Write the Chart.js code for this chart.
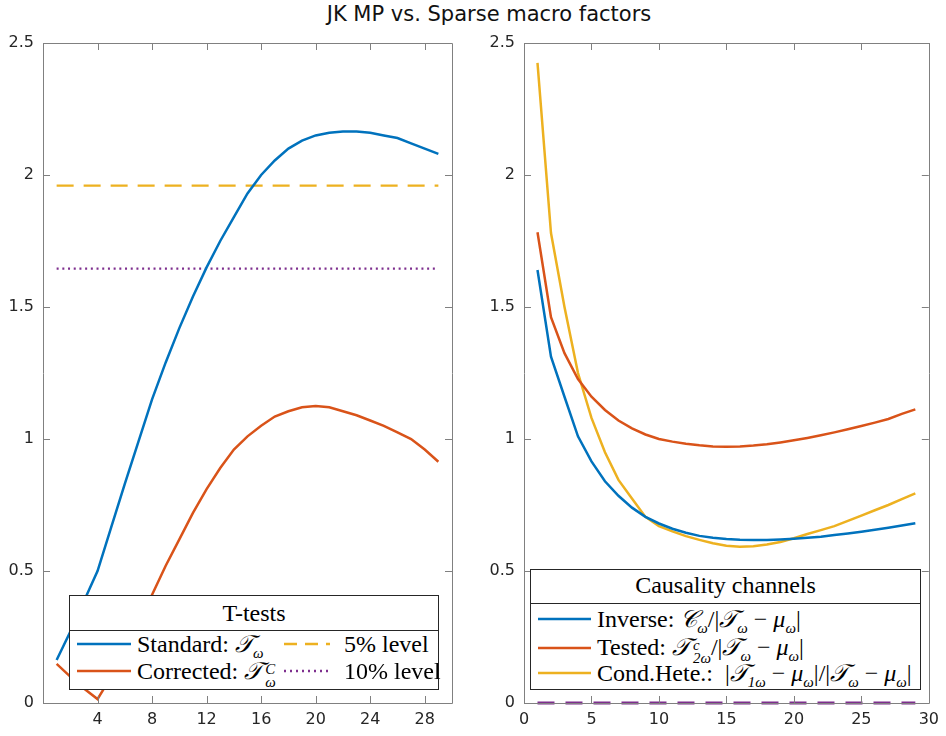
<!DOCTYPE html>
<html><head><meta charset="utf-8">
<script src="https://cdn.jsdelivr.net/npm/chart.js@4.4.0/dist/chart.umd.min.js"></script>
<style>
body{margin:0;width:946px;height:736px;position:relative;background:#fff;overflow:hidden}
canvas{position:absolute;top:0}
#wrap1{position:absolute;left:0;top:0;width:473px;height:736px}
#wrap2{position:absolute;left:473px;top:0;width:473px;height:736px}
#title{position:absolute;left:0;width:978px;top:2px;text-align:center;font-family:"DejaVu Sans",sans-serif;font-size:21px;color:#111}
.leg{position:absolute;background:#fff;border:1px solid #262626;font-family:"Liberation Serif","DejaVu Serif","Times New Roman",serif;font-size:24px;color:#000;box-sizing:border-box}
.leg .t{position:absolute;left:0;right:0;text-align:center;line-height:24px}
.leg .sep{position:absolute;left:0;right:0;border-top:1px solid #262626}
.leg .tx{position:absolute;white-space:nowrap;line-height:24px}
.leg svg{position:absolute}
.m{font-style:italic}
sub{font-size:62%;line-height:0}
.ss{display:inline-block;vertical-align:-8px;line-height:13px;font-size:62%;font-style:italic;margin-left:3px}
.ss span{display:block}
</style>
</head><body>
<div id="title">JK MP vs. Sparse macro factors</div>
<div id="wrap1"><canvas id="c1" width="473" height="736"></canvas></div>
<div id="wrap2"><canvas id="c2" width="473" height="736"></canvas></div>

<div class="leg" style="left:69px;top:595px;width:370px;height:95px">
  <div class="t" style="top:5px">T-tests</div>
  <div class="sep" style="top:34px"></div>
  <svg style="left:7px;top:46px" width="54" height="4"><line x1="0" y1="2" x2="54" y2="2" stroke="#0072BD" stroke-width="2.5"/></svg>
  <div class="tx" style="left:67px;top:36px">Standard: <span class="m">𝒯<sub>ω</sub></span></div>
  <svg style="left:7px;top:73px" width="54" height="4"><line x1="0" y1="2" x2="54" y2="2" stroke="#D95319" stroke-width="2.5"/></svg>
  <div class="tx" style="left:67px;top:63px">Corrected: <span class="m">𝒯</span><span class="ss"><span>C</span><span>ω</span></span></div>
  <svg style="left:214px;top:46px" width="46" height="4"><line x1="0" y1="2" x2="46" y2="2" stroke="#EDB120" stroke-width="2.5" stroke-dasharray="13 8"/></svg>
  <div class="tx" style="left:274px;top:36px">5% level</div>
  <svg style="left:214px;top:73px" width="46" height="4"><line x1="0" y1="2" x2="46" y2="2" stroke="#7E2F8E" stroke-width="2.5" stroke-dasharray="2 4"/></svg>
  <div class="tx" style="left:274px;top:63px">10% level</div>
</div>

<div class="leg" style="left:530px;top:569px;width:391px;height:121px">
  <div class="t" style="top:3px">Causality channels</div>
  <div class="sep" style="top:33px"></div>
  <svg style="left:7px;top:47px" width="53" height="4"><line x1="0" y1="2" x2="53" y2="2" stroke="#0072BD" stroke-width="2.5"/></svg>
  <div class="tx" style="left:66px;top:37px">Inverse: <span class="m">𝒞<sub>ω</sub></span>/|<span class="m">𝒯<sub>ω</sub></span> − <span class="m">μ<sub>ω</sub></span>|</div>
  <svg style="left:7px;top:76px" width="53" height="4"><line x1="0" y1="2" x2="53" y2="2" stroke="#D95319" stroke-width="2.5"/></svg>
  <div class="tx" style="left:66px;top:65px">Tested: <span class="m">𝒯</span><span class="ss"><span>c</span><span>2ω</span></span>/|<span class="m">𝒯<sub>ω</sub></span> − <span class="m">μ<sub>ω</sub></span>|</div>
  <svg style="left:7px;top:101px" width="53" height="4"><line x1="0" y1="2" x2="53" y2="2" stroke="#EDB120" stroke-width="2.5"/></svg>
  <div class="tx" style="left:66px;top:91px">Cond.Hete.:&nbsp; |<span class="m">𝒯<sub>1ω</sub></span> − <span class="m">μ<sub>ω</sub></span>|/|<span class="m">𝒯<sub>ω</sub></span> − <span class="m">μ<sub>ω</sub></span>|</div>
</div>

<script>
// ---- data ----
const horizon = [1,2,3,4,5,6,7,8,9,10,11,12,13,14,15,16,17,18,19,20,21,22,23,24,25,26,27,28,29];
const standardT = [0.163,0.27,0.385,0.50,0.665,0.83,0.99,1.15,1.29,1.42,1.54,1.65,1.75,1.84,1.93,2.00,2.055,2.10,2.13,2.15,2.16,2.165,2.165,2.16,2.15,2.14,2.12,2.10,2.08];
const correctedT = [0.148,0.10,0.055,0.015,0.10,0.20,0.30,0.41,0.52,0.62,0.72,0.81,0.89,0.96,1.01,1.05,1.085,1.105,1.12,1.125,1.12,1.105,1.09,1.07,1.05,1.025,1.0,0.96,0.914];
const level5 = [1.96,1.96,1.96,1.96,1.96,1.96,1.96,1.96,1.96,1.96,1.96,1.96,1.96,1.96,1.96,1.96,1.96,1.96,1.96,1.96,1.96,1.96,1.96,1.96,1.96,1.96,1.96,1.96,1.96];
const level10 = [1.645,1.645,1.645,1.645,1.645,1.645,1.645,1.645,1.645,1.645,1.645,1.645,1.645,1.645,1.645,1.645,1.645,1.645,1.645,1.645,1.645,1.645,1.645,1.645,1.645,1.645,1.645,1.645,1.645];
const inverseCh = [1.64,1.312,1.16,1.01,0.915,0.84,0.785,0.74,0.705,0.68,0.66,0.645,0.633,0.626,0.621,0.618,0.617,0.617,0.619,0.622,0.626,0.63,0.636,0.642,0.649,0.656,0.664,0.672,0.681];
const testedCh = [1.783,1.461,1.325,1.227,1.16,1.11,1.07,1.04,1.017,1.0,0.99,0.982,0.976,0.972,0.971,0.972,0.975,0.98,0.987,0.995,1.004,1.014,1.025,1.037,1.049,1.062,1.076,1.095,1.112];
const condHete = [2.425,1.78,1.50,1.25,1.08,0.95,0.845,0.775,0.705,0.67,0.65,0.632,0.618,0.605,0.596,0.592,0.594,0.60,0.61,0.624,0.64,0.655,0.67,0.69,0.71,0.73,0.75,0.772,0.794];
const zeroLine = [0,0,0,0,0,0,0,0,0,0,0,0,0,0,0,0,0,0,0,0,0,0,0,0,0,0,0,0,0];
const xTicksLeft = [4,8,12,16,20,24,28];
const xTicksRight = [0,5,10,15,20,25,30];
const yTicks = [0,0.5,1,1.5,2,2.5];
const yTickLabels = ['0','0.5','1','1.5','2','2.5'];

const BLUE='#0072BD', RED='#D95319', YEL='#EDB120', PUR='#7E2F8E';
const AXC='#808080', TXT='#262626';

function pts(ys){ return horizon.map((x,i)=>({x:x,y:ys[i]})); }

const boxTicks = {
  id:'boxTicks',
  afterDraw(chart){
    const {ctx, chartArea:a, scales} = chart;
    const L=7;
    ctx.save();
    ctx.strokeStyle=AXC; ctx.lineWidth=1;
    ctx.beginPath();
    ctx.rect(Math.round(a.left)+0.5, Math.round(a.top)+0.5, Math.round(a.right-a.left), Math.round(a.bottom-a.top));
    scales.x.ticks.forEach(t=>{
      const px=Math.round(scales.x.getPixelForValue(t.value))+0.5;
      ctx.moveTo(px,a.bottom); ctx.lineTo(px,a.bottom-L);
      ctx.moveTo(px,a.top); ctx.lineTo(px,a.top+L);
    });
    scales.y.ticks.forEach(t=>{
      const py=Math.round(scales.y.getPixelForValue(t.value))+0.5;
      ctx.moveTo(a.left,py); ctx.lineTo(a.left+L,py);
      ctx.moveTo(a.right,py); ctx.lineTo(a.right-L,py);
    });
    ctx.stroke();
    ctx.restore();
  }
};

function makeChart(id, datasets, xTicks, axisW, padRight){
  return new Chart(document.getElementById(id), {
    type:'line',
    data:{datasets},
    options:{
      responsive:false, animation:false,
      layout:{padding:{top:43,right:padRight,left:0,bottom:0}},
      plugins:{legend:{display:false}, title:{display:false}, tooltip:{enabled:false}},
      elements:{point:{radius:0}, line:{tension:0, borderWidth:2.2}},
      scales:{
        x:{type:'linear', min:0, max:30,
           grid:{display:false, drawTicks:false}, border:{display:false},
           ticks:{font:{family:'DejaVu Sans', size:16}, color:TXT, padding:7, maxRotation:0, autoSkip:false},
           afterBuildTicks:s=>{ s.ticks = xTicks.map(v=>({value:v})); },
           afterFit:s=>{ s.height=33; }},
        y:{type:'linear', min:0, max:2.5,
           grid:{display:false, drawTicks:false}, border:{display:false},
           ticks:{font:{family:'DejaVu Sans', size:16}, color:TXT, padding:9,
                  callback:(v)=>{ const i=yTicks.indexOf(v); return i>=0?yTickLabels[i]:''; }},
           afterBuildTicks:s=>{ s.ticks = yTicks.map(v=>({value:v})); },
           afterFit:s=>{ s.width=axisW; }}
      }
    },
    plugins:[boxTicks]
  });
}

makeChart('c1', [
  {label:'Standard', data:pts(standardT), borderColor:BLUE, borderWidth:2.5},
  {label:'Corrected', data:pts(correctedT), borderColor:RED, borderWidth:2.5},
  {label:'5% level', data:pts(level5), borderColor:YEL, borderWidth:2.2, borderDash:[17,10]},
  {label:'10% level', data:pts(level10), borderColor:PUR, borderWidth:2.2, borderDash:[2,3.7]}
], xTicksLeft, 43, 21);

makeChart('c2', [
  {label:'Inverse', data:pts(inverseCh), borderColor:BLUE, borderWidth:2.5},
  {label:'Tested', data:pts(testedCh), borderColor:RED, borderWidth:2.5},
  {label:'Cond.Hete.', data:pts(condHete), borderColor:YEL, borderWidth:2.5},
  {label:'zero', data:pts(zeroLine), borderColor:PUR, borderWidth:3, borderDash:[17,11], clip:false}
], xTicksRight, 51, 12);
</script>
</body></html>
